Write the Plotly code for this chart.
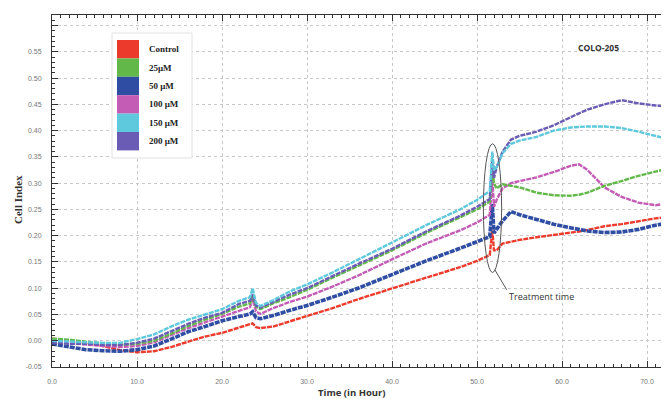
import plotly.graph_objects as go

# ---------------- data ----------------
time_h = [0, 2, 4, 6, 8, 10, 12, 14, 16, 18, 20, 22, 23.3, 23.6, 24.0, 24.5, 26, 28, 30, 33, 36, 40,
          44, 48, 50, 51.5, 51.8, 52.0, 52.3, 53, 54, 55, 57, 59, 61, 62, 63, 65, 67, 69, 71, 73]

control = [0.004, 0.0, -0.004, -0.010, -0.018, -0.022, -0.020, -0.012, -0.002, 0.008, 0.015, 0.025, 0.030,
           0.033, 0.026, 0.024, 0.027, 0.037, 0.046, 0.062, 0.079, 0.100, 0.120, 0.140, 0.152, 0.163, 0.210,
           0.172, 0.172, 0.185, 0.189, 0.192, 0.197, 0.201, 0.206, 0.208, 0.211, 0.218, 0.222, 0.228, 0.233, 0.237]
um25 = [0.004, 0.002, -0.002, -0.005, -0.008, -0.006, 0.000, 0.013, 0.028, 0.040, 0.051, 0.065, 0.071,
        0.085, 0.065, 0.060, 0.071, 0.083, 0.097, 0.120, 0.142, 0.172, 0.205, 0.235, 0.250, 0.265, 0.330,
        0.300, 0.290, 0.298, 0.295, 0.292, 0.282, 0.277, 0.276, 0.278, 0.282, 0.295, 0.304, 0.314, 0.322, 0.330]
um50 = [-0.006, -0.012, -0.017, -0.019, -0.020, -0.017, -0.010, 0.003, 0.017, 0.027, 0.038, 0.046, 0.051,
        0.055, 0.044, 0.042, 0.048, 0.058, 0.067, 0.083, 0.100, 0.126, 0.152, 0.176, 0.188, 0.198, 0.260,
        0.205, 0.212, 0.228, 0.246, 0.240, 0.231, 0.222, 0.215, 0.212, 0.209, 0.206, 0.207, 0.212, 0.220, 0.225]
um100 = [-0.002, -0.005, -0.008, -0.010, -0.012, -0.010, -0.003, 0.010, 0.024, 0.035, 0.046, 0.058, 0.064,
         0.080, 0.056, 0.051, 0.062, 0.074, 0.084, 0.103, 0.124, 0.155, 0.185, 0.210, 0.225, 0.240, 0.310,
         0.255, 0.268, 0.290, 0.300, 0.304, 0.311, 0.321, 0.333, 0.336, 0.325, 0.292, 0.274, 0.263, 0.258, 0.263]
um150 = [0.000, -0.002, -0.003, -0.004, -0.004, 0.003, 0.012, 0.027, 0.040, 0.050, 0.060, 0.076, 0.083,
         0.100, 0.072, 0.066, 0.077, 0.094, 0.107, 0.130, 0.155, 0.187, 0.220, 0.250, 0.268, 0.285, 0.360,
         0.325, 0.330, 0.357, 0.375, 0.381, 0.388, 0.400, 0.406, 0.407, 0.408, 0.408, 0.405, 0.398, 0.390, 0.382]
um200 = [-0.003, -0.006, -0.006, -0.008, -0.008, -0.004, 0.004, 0.018, 0.032, 0.044, 0.053, 0.070, 0.076,
         0.088, 0.067, 0.063, 0.074, 0.088, 0.100, 0.123, 0.146, 0.175, 0.208, 0.238, 0.255, 0.270, 0.345,
         0.310, 0.330, 0.360, 0.383, 0.390, 0.398, 0.410, 0.426, 0.433, 0.440, 0.450, 0.458, 0.452, 0.448, 0.445]

series_names = ["Control", "25μM", "50 μM", "100 μM", "150 μM", "200 μM"]
series_values = [control, um25, um50, um100, um150, um200]
series_colors = ["#ec3b2c", "#62b849", "#2e4da3", "#c45cb6", "#5ec8dd", "#6a5cb4"]
series_widths = [2.4, 2.4, 3.6, 2.4, 2.4, 2.4]

y_tick_vals = [-0.05, 0.0, 0.05, 0.10, 0.15, 0.20, 0.25, 0.30, 0.35, 0.40, 0.45, 0.50, 0.55, 0.60]
x_tick_vals = [0, 10, 20, 30, 40, 50, 60, 70]

# ---------------- layout geometry ----------------
# page body has an 8px margin, so the figure is drawn offset by (8, 8)
OFF = 8
W, H = 669 - OFF, 399 - OFF
L, R, T, B = 52 - OFF, 0, 15 - OFF, 32
PW, PH = W - L - R, H - T - B
X_RANGE = [0, PW / 8.5]
Y_RANGE = [-0.05, 0.6202]


def px(xp):
    # xp: screen pixel
    return (xp - OFF - L) / PW


def py(yp):
    return (H - B - (yp - OFF)) / PH


fig = go.Figure()

draw_order = [0, 2, 3, 1, 5, 4]
for i in draw_order:
    fig.add_trace(go.Scatter(
        x=time_h, y=series_values[i], mode="lines", name=series_names[i],
        line=dict(color=series_colors[i], width=series_widths[i], dash="5px,1px"),
        showlegend=False, cliponaxis=True,
    ))

shapes = []
annotations = []

# legend box
shapes.append(dict(type="rect", xref="paper", yref="paper", x0=px(112), x1=px(192), y0=py(158), y1=py(33),
                   line=dict(color="#e2e2e2", width=1), fillcolor="white", layer="above"))
for k, (nm, col) in enumerate(zip(series_names, series_colors)):
    top = 40 + k * 18.4
    shapes.append(dict(type="rect", xref="paper", yref="paper", x0=px(117), x1=px(139),
                       y0=py(top + 18.4), y1=py(top), line=dict(width=0), fillcolor=col, layer="above"))
    annotations.append(dict(text=f"<b>{nm}</b>", xref="paper", yref="paper", x=px(147), y=py(top + 9.2),
                            xanchor="left", yanchor="middle", showarrow=False,
                            font=dict(family="Liberation Serif", size=9, color="#222")))

# treatment ellipse and pointer
shapes.append(dict(type="circle", xref="x", yref="y", x0=50.75, x1=52.9, y0=0.130, y1=0.375,
                   line=dict(color="#555", width=1)))
shapes.append(dict(type="line", xref="x", yref="y", x0=52.1, x1=53.5, y0=0.135, y1=0.097,
                   line=dict(color="#555", width=1)))
annotations.append(dict(text="Treatment time", xref="paper", yref="paper", x=px(541), y=py(296),
                        xanchor="center", yanchor="middle",
                        showarrow=False, font=dict(family="Open Sans", size=9, color="#333")))
annotations.append(dict(text="<b>COLO-205</b>", xref="paper", yref="paper", x=px(598), y=py(47),
                        xanchor="center", yanchor="middle",
                        showarrow=False, font=dict(family="Open Sans", size=8.5, color="#333")))

# axis titles
annotations.append(dict(text="<b>Cell Index</b>", xref="paper", yref="paper", x=px(18), y=py(200),
                        xanchor="center", yanchor="middle", textangle=-90, showarrow=False,
                        font=dict(family="Liberation Serif", size=11, color="#333")))
annotations.append(dict(text="<b>Time (in Hour)</b>", xref="paper", yref="paper", x=px(352), y=py(392),
                        xanchor="center", yanchor="middle",
                        showarrow=False, font=dict(family="Open Sans", size=9.5, color="#333")))

y_tick_text = ["" if v > 0.575 else f"{v:.2f}" for v in y_tick_vals]

fig.update_layout(
    width=W, height=H, margin=dict(l=L, r=R, t=T, b=B),
    plot_bgcolor="white", paper_bgcolor="white",
    shapes=shapes, annotations=annotations,
    xaxis=dict(range=X_RANGE, tickvals=x_tick_vals, ticktext=[f"{v:.1f}" for v in x_tick_vals],
               ticks="inside", ticklen=6, tickcolor="#333", showline=True, linecolor="#333", linewidth=1,
               mirror="ticks", showgrid=True, gridcolor="#c8c8c8", griddash="dot", gridwidth=1,
               zeroline=False, tickfont=dict(family="Arial", size=7, color="#777"),
               ticklabelstandoff=8,
               minor=dict(dtick=1, ticks="inside", ticklen=3, tickcolor="#333", showgrid=False)),
    yaxis=dict(range=Y_RANGE, tickvals=y_tick_vals, ticktext=y_tick_text,
               ticks="inside", ticklen=6, tickcolor="#333", showline=True, linecolor="#333", linewidth=1,
               mirror="ticks", showgrid=True, gridcolor="#c8c8c8", griddash="dot", gridwidth=1,
               zeroline=False, tickfont=dict(family="Arial", size=7, color="#777"),
               ticklabelstandoff=8,
               minor=dict(dtick=0.01, ticks="inside", ticklen=3, tickcolor="#333", showgrid=False)),
)

fig.write_html("out.html")
